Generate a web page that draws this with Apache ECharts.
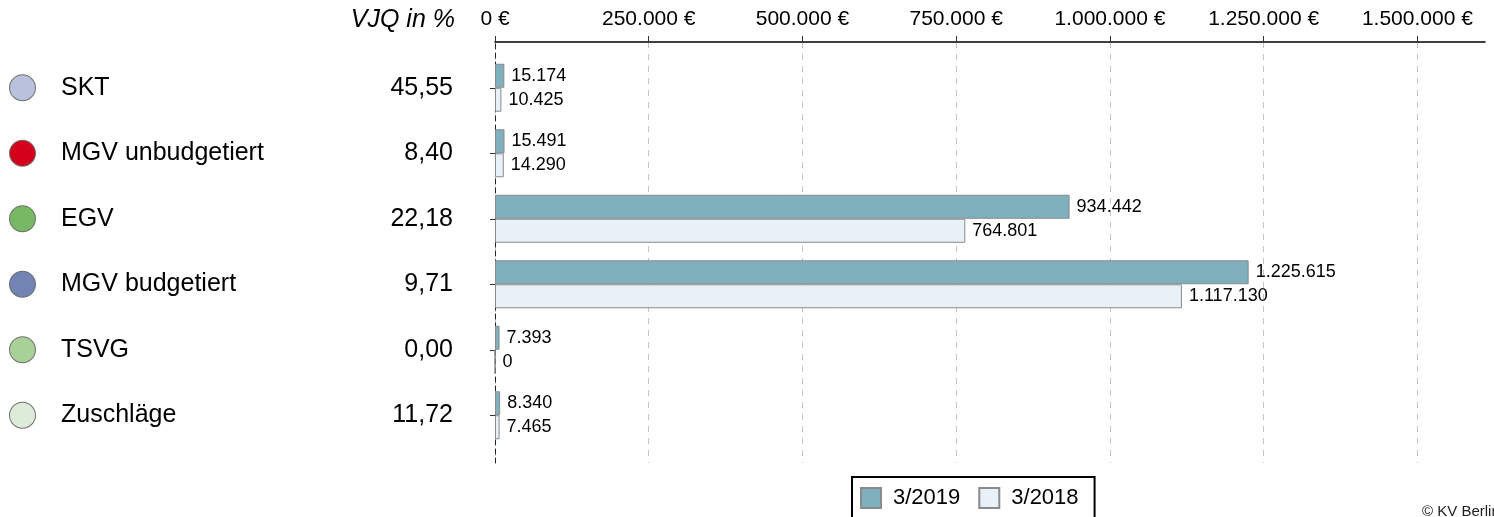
<!DOCTYPE html>
<html>
<head>
<meta charset="utf-8">
<script src="https://cdn.jsdelivr.net/npm/echarts@6/dist/echarts.min.js"></script>
<style>html,body{margin:0;padding:0;background:#fff;}#c{width:1494px;height:517px;}</style>
</head>
<body>
<div id="c"></div>
<script>
var categories = ['SKT', 'MGV unbudgetiert', 'EGV', 'MGV budgetiert', 'TSVG', 'Zuschläge'];
var vjq = [45.55, 8.40, 22.18, 9.71, 0.00, 11.72];
var values2019 = [15174, 15491, 934442, 1225615, 7393, 8340];
var values2018 = [10425, 14290, 764801, 1117130, 0, 7465];
var xTicks = [0, 250000, 500000, 750000, 1000000, 1250000, 1500000];
var seriesNames = ['3/2019', '3/2018'];

var circleColors = ['#b9c1dc', '#d4001c', '#78b864', '#7283b4', '#a7d196', '#dcecd8'];
var FONT = "'Liberation Sans', Arial, Helvetica, sans-serif";
var XMAX = 1610000;

function de(n) {
  var s = String(Math.round(n));
  return s.replace(/\B(?=(\d{3})+(?!\d))/g, '.');
}

var rich = {
  s: { width: 26 },
  n: { fontSize: 25, fontFamily: FONT, color: '#000' }
};
circleColors.forEach(function (c, i) {
  rich['c' + i] = { width: 25, height: 25, borderRadius: 13, backgroundColor: c, borderColor: '#707070', borderWidth: 1 };
});

var chart = echarts.init(document.getElementById('c'), null, { renderer: 'canvas' });
chart.setOption({
  animation: false,
  backgroundColor: '#fff',
  textStyle: { fontFamily: FONT },
  grid: [
    { left: 495, top: 55, width: 990, height: 393, containLabel: false },
    { left: 495, top: 42, width: 990, height: 421, containLabel: false }
  ],
  xAxis: [
    { gridIndex: 0, type: 'value', min: 0, max: XMAX, show: false },
    {
      gridIndex: 1, type: 'value', position: 'top', min: 0, max: XMAX, interval: 250000,
      axisLine: { show: true, onZero: false, lineStyle: { color: '#000', width: 1.5 } },
      axisTick: { show: true, length: 6, customValues: xTicks, lineStyle: { color: '#333' } },
      axisLabel: {
        fontSize: 21, color: '#000', fontFamily: FONT, margin: 12,
        customValues: xTicks,
        formatter: function (v) { return de(v) + ' €'; }
      },
      splitLine: { show: true, lineStyle: { color: '#c4c4c4', type: [6, 6], width: 1 } }
    }
  ],
  yAxis: [
    {
      gridIndex: 0, type: 'category', data: categories, inverse: true,
      axisLine: { show: false },
      axisTick: { show: true, alignWithLabel: true, length: 5, lineStyle: { color: '#333' } },
      axisLabel: {
        margin: 485, align: 'left',
        formatter: function (val, idx) {
          return '{c' + idx + '|}{s|}{n|' + val + '}';
        },
        rich: rich
      },
      splitLine: { show: false }
    },
    {
      gridIndex: 1, type: 'value', min: 0, max: 1,
      axisLine: { show: true, onZero: false, lineStyle: { color: '#222', type: [5, 4], width: 1 } },
      axisTick: { show: false }, axisLabel: { show: false }, splitLine: { show: false }
    },
    {
      gridIndex: 0, type: 'category', data: categories, inverse: true, position: 'left',
      axisLine: { show: false }, axisTick: { show: false }, splitLine: { show: false },
      axisLabel: {
        margin: 42, align: 'right', fontSize: 25, fontFamily: FONT, color: '#000',
        formatter: function (val, idx) { return vjq[idx].toFixed(2).replace('.', ','); }
      }
    }
  ],
  legend: {
    data: seriesNames,
    left: 852, top: 477,
    orient: 'horizontal',
    icon: 'rect',
    itemWidth: 20, itemHeight: 20, itemGap: 18,
    padding: [10, 16, 14, 8],
    borderColor: '#000', borderWidth: 2, backgroundColor: '#fff',
    textStyle: { fontSize: 22, color: '#000', fontFamily: FONT, padding: [0, 0, 0, 7] }
  },
  series: [
    {
      name: seriesNames[0], type: 'bar', xAxisIndex: 0, yAxisIndex: 0,
      data: values2019, barWidth: 24, barGap: '0%',
      itemStyle: { color: '#7fb0be', borderColor: '#8a8a8a', borderWidth: 1 },
      label: { show: true, position: 'right', distance: 7, fontSize: 18, color: '#000', fontFamily: FONT,
        formatter: function (p) { return de(p.value); } }
    },
    {
      name: seriesNames[1], type: 'bar', xAxisIndex: 0, yAxisIndex: 0,
      data: values2018, barWidth: 24, barGap: '0%',
      itemStyle: { color: '#e8f0f8', borderColor: '#8a8a8a', borderWidth: 1 },
      label: { show: true, position: 'right', distance: 7, fontSize: 18, color: '#000', fontFamily: FONT,
        formatter: function (p) { return de(p.value); } }
    }
  ],
  graphic: [
    { type: 'text', x: 455, y: 20, style: { text: 'VJQ in %', fontSize: 25, fontStyle: 'italic', fontFamily: FONT, fill: '#000', align: 'right', verticalAlign: 'middle' } },
    { type: 'text', x: 1422, y: 512, style: { text: '© KV Berlin', fontSize: 15, fontFamily: FONT, fill: '#222', align: 'left', verticalAlign: 'middle' } }
  ]
});
</script>
</body>
</html>
